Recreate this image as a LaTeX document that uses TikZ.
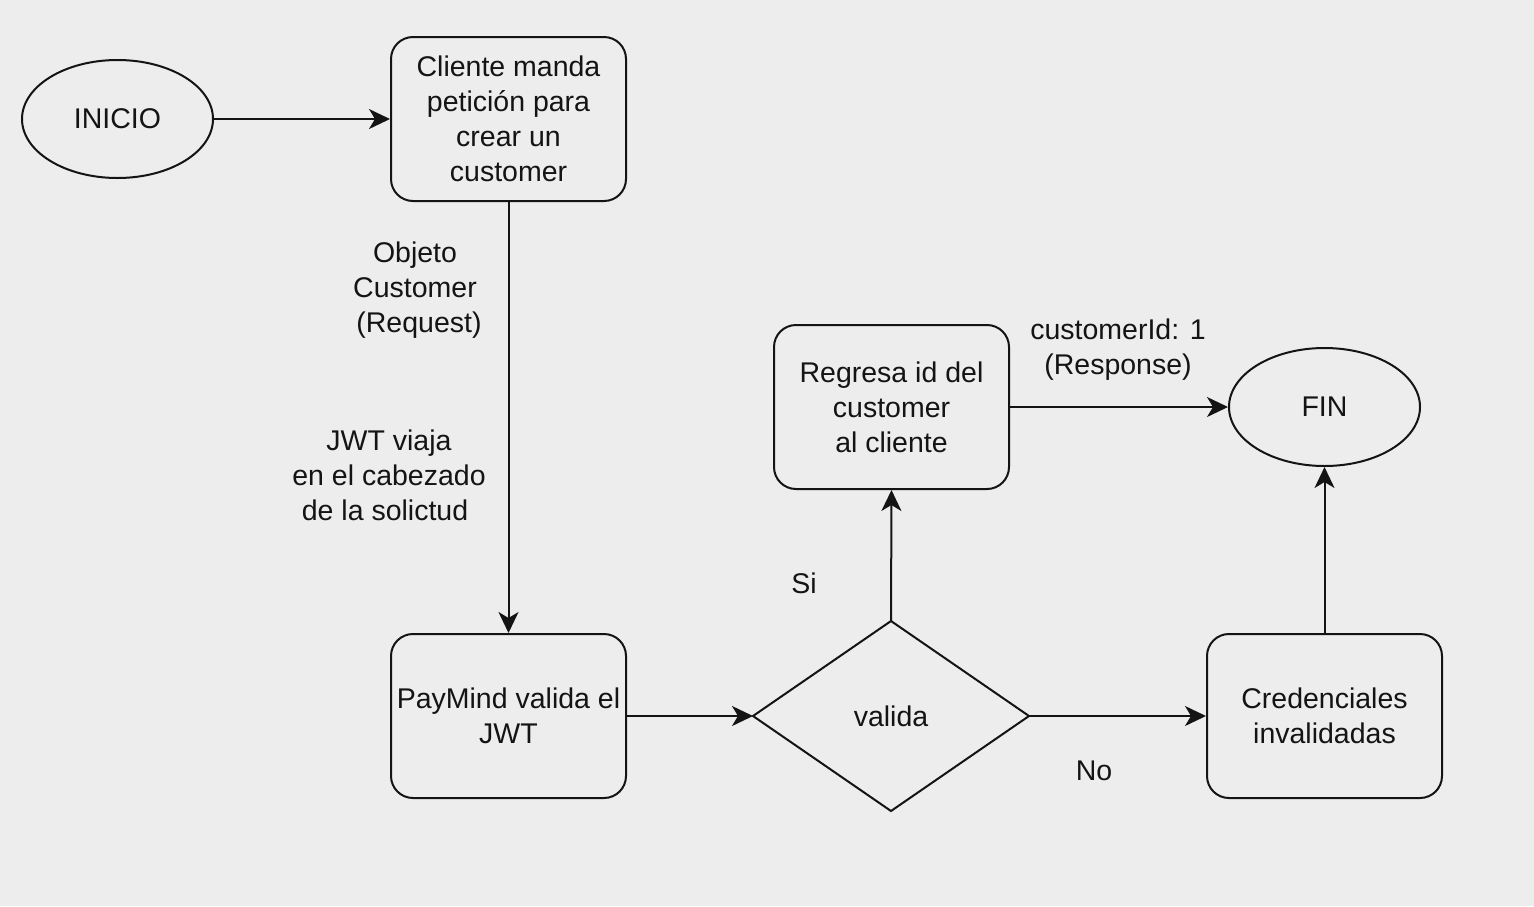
\documentclass[tikz,border=0pt]{standalone}
\usepackage{fontspec}
\setmainfont{Liberation Sans}
\usetikzlibrary{shapes.geometric,arrows.meta}
\definecolor{bgc}{HTML}{EDEDED}
\definecolor{ink}{HTML}{141414}
\begin{document}
\begin{tikzpicture}[x=1pt,y=-1pt,
  every node/.style={font=\fontsize{28.5}{35}\selectfont, text=ink},
  box/.style={draw=ink, line width=2pt, rounded corners=22pt, minimum width=235pt, minimum height=164pt, align=center, inner sep=0pt},
  oval/.style={draw=ink, line width=2pt, ellipse, minimum width=191pt, minimum height=118pt, inner sep=0pt},
  lbl/.style={align=center, inner sep=0pt},
  conn/.style={draw=ink, line width=2pt, -{Stealth[length=21pt, width=20pt, inset=6pt]}}
]
\fill[bgc] (0,0) rectangle (1534,906);
\useasboundingbox (0,0) rectangle (1534,906);

\node[oval] (inicio) at (117.5,119) {INICIO};
\node[box] (cliente) at (508.5,119) {Cliente manda\\petición para\\crear un\\customer};
\node[box] (paymind) at (508.5,716) {PayMind valida el\\JWT};
\coordinate (dT) at (891,621);
\coordinate (dB) at (891,811);
\coordinate (dL) at (753,716);
\coordinate (dR) at (1029,716);
\draw[ink, line width=2pt, line join=miter] (dT) -- (dR) -- (dB) -- (dL) -- cycle;
\node[lbl] (valida) at (891,716) {valida};
\node[box] (regresa) at (891.5,407) {Regresa id del\\customer\\al cliente};
\node[oval] (fin) at (1324.5,407) {FIN};
\node[box] (cred) at (1324.5,716) {Credenciales\\invalidadas};

\draw[conn] (inicio.east) -- (cliente.west);
\draw[conn] (cliente.south) -- (paymind.north);
\draw[conn] (paymind.east) -- (dL);
\draw[conn] (dT) -- (regresa.south);
\draw[conn] (dR) -- (cred.west);
\draw[conn] (regresa.east) -- (fin.west);
\draw[conn] (cred.north) -- (fin.south);

\node[lbl] (req) at (415,290.5) {Objeto\\Customer\\\ (Request)};
\node[lbl] (jwt) at (389,475) {JWT viaja\\en el cabezado\\de la solictud\ \ };
\node[lbl] (si) at (804,583) {Si};
\node[lbl] (no) at (1094,771) {No};
\node[lbl] (resp) at (1118,350) {customerId: 1\\(Response)};
\end{tikzpicture}
\end{document}
